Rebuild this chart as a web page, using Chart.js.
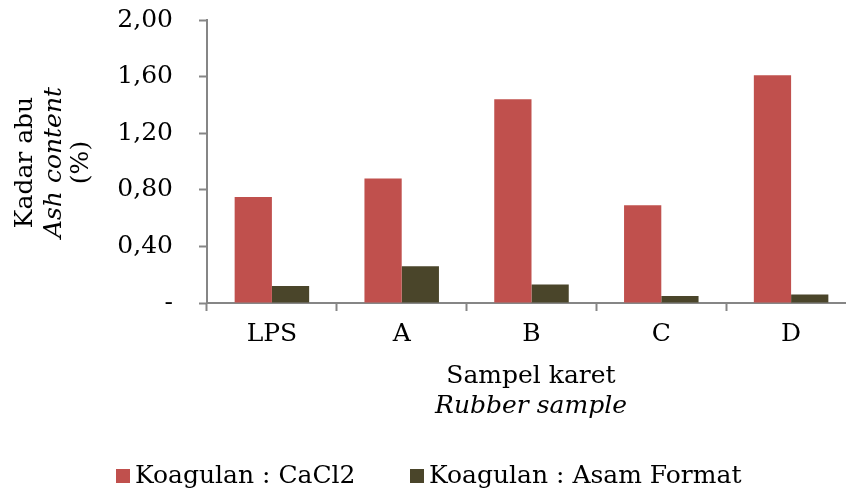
<!DOCTYPE html>
<html>
<head>
<meta charset="utf-8">
<script src="https://cdn.jsdelivr.net/npm/chart.js@4.4.1/dist/chart.umd.min.js"></script>
<style>
  html, body { margin: 0; padding: 0; background: #fff; overflow: hidden; }
  #wrap { width: 860px; height: 492px; }
</style>
</head>
<body>
<div id="wrap"><canvas id="chart" width="860" height="492"></canvas></div>
<script>
  const categories = ["LPS", "A", "B", "C", "D"];
  const cacl2 = [0.75, 0.88, 1.44, 0.69, 1.61];
  const asamFormat = [0.12, 0.26, 0.13, 0.05, 0.06];
  const seriesNames = ["Koagulan : CaCl2", "Koagulan : Asam Format"];
  const seriesColors = ["#C0504D", "#4A452A"];

  const font = "DejaVu Serif";
  const fontSize = 25;
  const axisColor = "#868686";

  // axis titles and legend (mixed italic lines, so drawn by hand)
  const textPlugin = {
    id: "texts",
    afterDraw(chart) {
      let ctx = chart.ctx;
      let area = chart.chartArea;
      ctx.save();
      ctx.fillStyle = "#000";
      ctx.textAlign = "center";
      ctx.textBaseline = "alphabetic";

      let cy = (area.top + area.bottom) / 2 + 1;
      let yLines = [
        ["Kadar abu", "", 32],
        ["Ash content", "italic ", 61],
        ["(%)", "", 88],
      ];
      yLines.forEach(([txt, style, x]) => {
        ctx.save();
        ctx.translate(x, cy);
        ctx.rotate(-Math.PI / 2);
        ctx.font = style + fontSize + "px '" + font + "'";
        ctx.fillText(txt, 0, 0);
        ctx.restore();
      });

      let cx = 531;
      ctx.font = fontSize + "px '" + font + "'";
      ctx.fillText("Sampel karet", cx, 383);
      ctx.font = "italic " + fontSize + "px '" + font + "'";
      ctx.fillText("Rubber sample", cx, 413);

      ctx.textAlign = "left";
      ctx.font = fontSize + "px '" + font + "'";
      let legendX = [116, 410];
      chart.data.datasets.forEach((ds, i) => {
        ctx.fillStyle = ds.backgroundColor;
        ctx.fillRect(legendX[i], 469, 14, 14);
        ctx.fillStyle = "#000";
        ctx.fillText(ds.label, legendX[i] + 19, 483);
      });
      ctx.restore();
    },
  };

  new Chart(document.getElementById("chart"), {
    type: "bar",
    data: {
      labels: categories,
      datasets: [
        { label: seriesNames[0], data: cacl2, backgroundColor: seriesColors[0] },
        { label: seriesNames[1], data: asamFormat, backgroundColor: seriesColors[1] },
      ],
    },
    options: {
      responsive: false,
      animation: false,
      layout: { padding: { top: 20, right: 4, bottom: 139, left: 0 } },
      datasets: {
        bar: { categoryPercentage: 0.574, barPercentage: 1, borderWidth: 0 },
      },
      plugins: {
        legend: { display: false },
        tooltip: { enabled: false },
      },
      scales: {
        x: {
          afterFit: s => { s.height = 50; s.paddingLeft = 0; s.paddingRight = 0; },
          grid: {
            offset: true,
            drawOnChartArea: false,
            tickLength: 8,
            tickWidth: 2,
            tickColor: axisColor,
          },
          border: { color: axisColor, width: 2 },
          ticks: {
            color: "#000",
            padding: 8,
            font: { family: font, size: fontSize },
          },
        },
        y: {
          min: 0,
          max: 2,
          afterFit: s => { s.width = 207; s.paddingTop = 0; s.paddingBottom = 0; },
          grid: {
            drawOnChartArea: false,
            tickLength: 8,
            tickWidth: 2,
            tickColor: axisColor,
          },
          border: { color: axisColor, width: 2 },
          ticks: {
            stepSize: 0.4,
            color: "#000",
            padding: 26,
            font: { family: font, size: fontSize },
            callback: v => (v === 0 ? "-" : v.toFixed(2).replace(".", ",")),
          },
        },
      },
    },
    plugins: [textPlugin],
  });
</script>
</body>
</html>
